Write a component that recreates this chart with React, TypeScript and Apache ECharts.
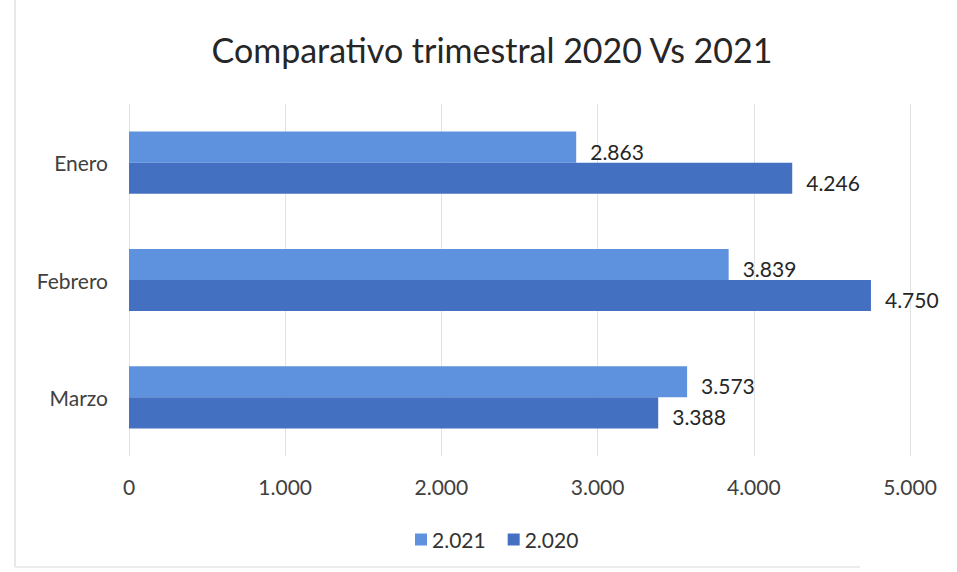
import React, { useEffect, useRef } from "react";
import * as echarts from "echarts";

const categories = ["Enero", "Febrero", "Marzo"];
const seriesNames = ["2.021", "2.020"];
const values2021 = [2863, 3839, 3573];
const values2020 = [4246, 4750, 3388];
const xTicks = [0, 1000, 2000, 3000, 4000, 5000];
const titleText = "Comparativo trimestral 2020 Vs 2021";

const FONT = "Lato";
const fmt = (v: number) => {
  const s = Math.round(v).toString();
  return s.replace(/\B(?=(\d{3})+(?!\d))/g, ".");
};

export default function App() {
  const ref = useRef<HTMLDivElement>(null);
  useEffect(() => {
    document.body.style.margin = "0";
    const chart = echarts.init(ref.current!, undefined, { renderer: "svg" });
    chart.setOption({
      animation: false,
      backgroundColor: "#ffffff",
      textStyle: { fontFamily: FONT },
      title: {
        text: titleText,
        left: 487,
        textAlign: "center",
        top: 27,
        textStyle: { fontFamily: FONT, fontSize: 34, fontWeight: "normal", color: "#262626" },
      },
      legend: {
        data: seriesNames,
        bottom: 17,
        left: 410,
        itemWidth: 12,
        itemHeight: 12,
        itemGap: 22,
        icon: "rect",
        textStyle: { fontFamily: FONT, fontSize: 21, color: "#333" },
      },
      grid: { left: 129, right: 47, top: 104, height: 352, containLabel: false },
      xAxis: {
        type: "value",
        min: xTicks[0],
        max: xTicks[xTicks.length - 1],
        interval: xTicks[1] - xTicks[0],
        axisLine: { show: false },
        axisTick: { show: false },
        splitLine: { lineStyle: { color: "#e3e3e3", width: 1 } },
        axisLabel: { formatter: (v: number) => fmt(v), fontFamily: FONT, fontSize: 21, color: "#404040", margin: 20 },
      },
      yAxis: {
        type: "category",
        data: categories,
        inverse: true,
        axisLine: { show: true, lineStyle: { color: "#e3e3e3" } },
        axisTick: { show: false },
        axisLabel: { fontFamily: FONT, fontSize: 21, color: "#404040", margin: 21 },
      },
      series: [
        {
          name: seriesNames[0],
          type: "bar",
          data: values2021,
          barGap: "0%",
          barCategoryGap: "47%",
          itemStyle: { color: "#5f92de" },
          label: { show: true, position: "right", distance: 14, formatter: (p: any) => fmt(p.value), fontFamily: FONT, fontSize: 21, color: "#262626", offset: [0, 4] },
        },
        {
          name: seriesNames[1],
          type: "bar",
          data: values2020,
          barGap: "0%",
          barCategoryGap: "47%",
          itemStyle: { color: "#4470c2" },
          label: { show: true, position: "right", distance: 14, formatter: (p: any) => fmt(p.value), fontFamily: FONT, fontSize: 21, color: "#262626", offset: [0, 4] },
        },
      ],
      graphic: [
        {
          type: "line",
          shape: { x1: 15, y1: 0, x2: 15, y2: 567 },
          style: { stroke: "#e8e8e8", lineWidth: 2 },
          silent: true,
        },
        {
          type: "line",
          shape: { x1: 15, y1: 567, x2: 860, y2: 567 },
          style: { stroke: "#ececec", lineWidth: 2 },
          silent: true,
        },
      ],
    });
    return () => chart.dispose();
  }, []);
  return <div ref={ref} style={{ width: 957, height: 572 }} />;
}
